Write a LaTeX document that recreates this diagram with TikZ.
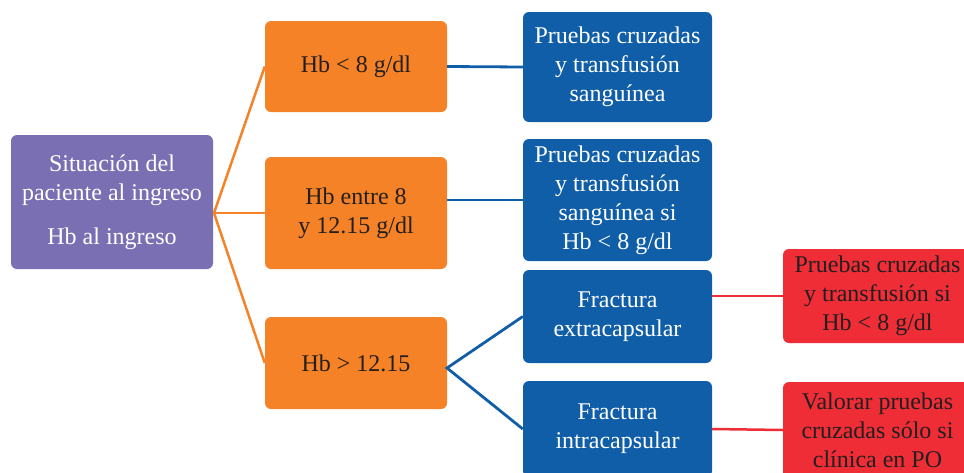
\documentclass[tikz,border=0pt]{standalone}
\usepackage{fontspec}
\setmainfont{Liberation Serif}
\newfontfamily\boxfont{Liberation Serif}
\definecolor{cpurple}{RGB}{122,111,178}
\definecolor{corange}{RGB}{245,130,38}
\definecolor{cblue}{RGB}{16,94,168}
\definecolor{cred}{RGB}{238,45,55}
\definecolor{cdark}{RGB}{35,31,32}
\tikzset{
  box/.style={rectangle, rounded corners=6pt, inner sep=0pt, align=center,
    font=\boxfont\fontsize{24}{29}\selectfont},
  pbox/.style={box, fill=cpurple, text=white},
  obox/.style={box, fill=corange, text=cdark},
  bbox/.style={box, fill=cblue, text=white},
  rbox/.style={box, fill=cred, text=cdark},
  oline/.style={draw=corange, line width=2.5pt},
  bline/.style={draw=cblue, line width=2.8pt},
  rline/.style={draw=cred, line width=2.5pt}
}
\begin{document}
\begin{tikzpicture}[x=1pt,y=-1pt]
\useasboundingbox (0,0) rectangle (964,472);
\clip (0,0) rectangle (964,472);
\node[pbox, minimum width=202pt, minimum height=134pt] (sit) at (112,202)
  {Situación del\\ paciente al ingreso\\[15pt] Hb al ingreso};
\node[obox, minimum width=182pt, minimum height=91pt] (o1) at (356,66.5) {\raisebox{-1.5pt}{Hb < 8 g/dl}};
\node[obox, minimum width=182pt, minimum height=112pt] (o2) at (356,213) {Hb entre 8\\ y 12.15 g/dl};
\node[obox, minimum width=182pt, minimum height=92pt] (o3) at (356,363) {\raisebox{-1.5pt}{Hb > 12.15}};
\node[bbox, minimum width=189pt, minimum height=110pt] (b1) at (617.5,67)
  {Pruebas cruzadas\\ y transfusión\\ sanguínea};
\node[bbox, minimum width=189pt, minimum height=122pt] (b2) at (617.5,200)
  {Pruebas cruzadas\\ y transfusión\\ sanguínea si\\ Hb < 8 g/dl};
\node[bbox, minimum width=189pt, minimum height=93pt] (b3) at (617.5,316.5)
  {Fractura\\ extracapsular};
\node[bbox, minimum width=189pt, minimum height=96pt] (b4) at (617.5,429)
  {Fractura\\ intracapsular};
\node[rbox, minimum width=189pt, minimum height=94pt] (r1) at (877.5,296)
  {Pruebas cruzadas\\ y transfusión si\\ Hb < 8 g/dl};
\node[rbox, minimum width=189pt, minimum height=96pt] (r2) at (877.5,430)
  {Valorar pruebas\\ cruzadas sólo si\\ clínica en PO};
\coordinate (hub1) at (214,213);
\coordinate (hub2) at (447,368);
\draw[oline] (o1.west) -- (hub1) -- (o3.west);
\draw[oline] (hub1) -- (o2.west);
\draw[bline] (o1.east) -- (b1.west);
\draw[bline] (o2.east |- b2.west) -- (b2.west);
\draw[bline] (b3.west) -- (hub2) -- (b4.west);
\draw[rline] (b3.east |- r1.west) -- (r1.west);
\draw[rline] (b4.east) -- (r2.west);
\end{tikzpicture}
\end{document}
